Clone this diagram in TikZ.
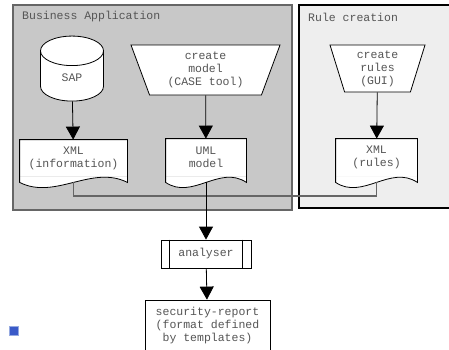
\documentclass[tikz,border=0pt]{standalone}
\usepackage{fontspec}
\setmonofont{Liberation Mono}
\usetikzlibrary{shapes.geometric, positioning, arrows.meta, calc}
\definecolor{txtgray}{HTML}{555555}
\definecolor{bizfill}{HTML}{C8C8C8}
\definecolor{rulefill}{HTML}{EEEEEE}
\tikzset{box/.style={draw, line width=0.8pt, fill=white, text=txtgray, align=center,
                     font=\ttfamily\fontsize{11.5}{13}\selectfont, inner sep=1pt},
         store/.style={box, cylinder, shape border rotate=90, shape aspect=1.3,
                       minimum width=63pt, minimum height=65pt},
         manual/.style={box, trapezium, shape border rotate=180, trapezium stretches body},
         doc/.style={box, draw=none, rectangle},
         process/.style={box, rectangle, minimum width=90pt, minimum height=28pt},
         flow/.style={line width=0.8pt, -{Triangle[width=14pt,length=13pt]}},
         joinline/.style={line width=1.2pt, draw=black!60},
         group/.style={line width=1.4pt},
         title/.style={anchor=west, inner sep=0pt, text=txtgray,
                       font=\ttfamily\fontsize{11.5}{13}\selectfont},
        }
% wavy lower edge of a document node
\newcommand{\docwave}[1]{%
  \coordinate (#1-e) at ($(#1.south east)+(0,6)$);
  \coordinate (#1-w) at ($(#1.south west)+(0,6)$);
  \coordinate (#1-foot) at ($(#1.south)+(0,6)$);
  \fill[white] (#1.south west) -- (#1.south east) -- (#1-e)
    .. controls ($(#1-e)!.33!(#1-w)+(0,-18)$) and ($(#1-e)!.67!(#1-w)+(0,18)$) .. (#1-w) -- cycle;
  \draw[line width=0.8pt] (#1.north west) -- (#1.north east) -- (#1-e)
    .. controls ($(#1-e)!.33!(#1-w)+(0,-18)$) and ($(#1-e)!.67!(#1-w)+(0,18)$) .. (#1-w) -- cycle;
}

\begin{document}
\begin{tikzpicture}[x=1pt,y=-1pt]
    \useasboundingbox (0,0) rectangle (449,349);
    % groups
    \draw[group, draw=black!60, fill=bizfill] (13,5) rectangle (292,210);
    \draw[group, draw=black, fill=rulefill] (299,5) rectangle (452,208);
    \node[title] (biz) at (22,17) {Business Application};
    \node[title] (rule) at (308,17) {Rule creation};
    % business application
    \node[store] (sap) at (72,78) {SAP};
    \node[doc, minimum width=107pt, minimum height=36pt] (info) at (73.5,158) {XML\\(information)};
    \docwave{info}
    \node[manual, trapezium angle=64, minimum width=149pt, minimum height=50pt] (model) at (205.5,70) {create\\model\\(CASE tool)};
    \node[doc, minimum width=80pt, minimum height=37pt] (uml) at (206,157.5) {UML\\model};
    \docwave{uml}
    % rule creation
    \node[manual, trapezium angle=69, minimum width=95pt, minimum height=47pt] (gui) at (377.5,68.5) {create\\rules\\(GUI)};
    \node[doc, minimum width=81pt, minimum height=37pt] (rules) at (376.5,157.5) {XML\\(rules)};
    \docwave{rules}
    % analysis
    \node[process] (analyser) at (206,254) {analyser};
    \draw[line width=0.8pt] ($(analyser.north west)+(9,0)$) -- ($(analyser.south west)+(9,0)$);
    \draw[line width=0.8pt] ($(analyser.north east)+(-9,0)$) -- ($(analyser.south east)+(-9,0)$);
    \node[box, minimum width=125pt, minimum height=52pt] (report) at (207.5,326) {security-report\\(format defined\\by templates)};
    \draw[flow] (sap) -- (info);
    \draw[flow] (model) -- (uml);
    \draw[flow] (gui) -- (rules);
    \coordinate (joint) at (206,196);
    \draw[joinline] (info-foot) |- (joint) -| (rules-foot);
    \draw[flow] (uml-foot) -- (analyser);
    \draw[flow] (analyser) -- (report);
    \node[fill={rgb,255:red,58;green,90;blue,200}, draw={rgb,255:red,150;green,170;blue,225}, minimum size=9pt, inner sep=0pt] (mark) at (13.5,330.5) {};
\end{tikzpicture}
\end{document}
